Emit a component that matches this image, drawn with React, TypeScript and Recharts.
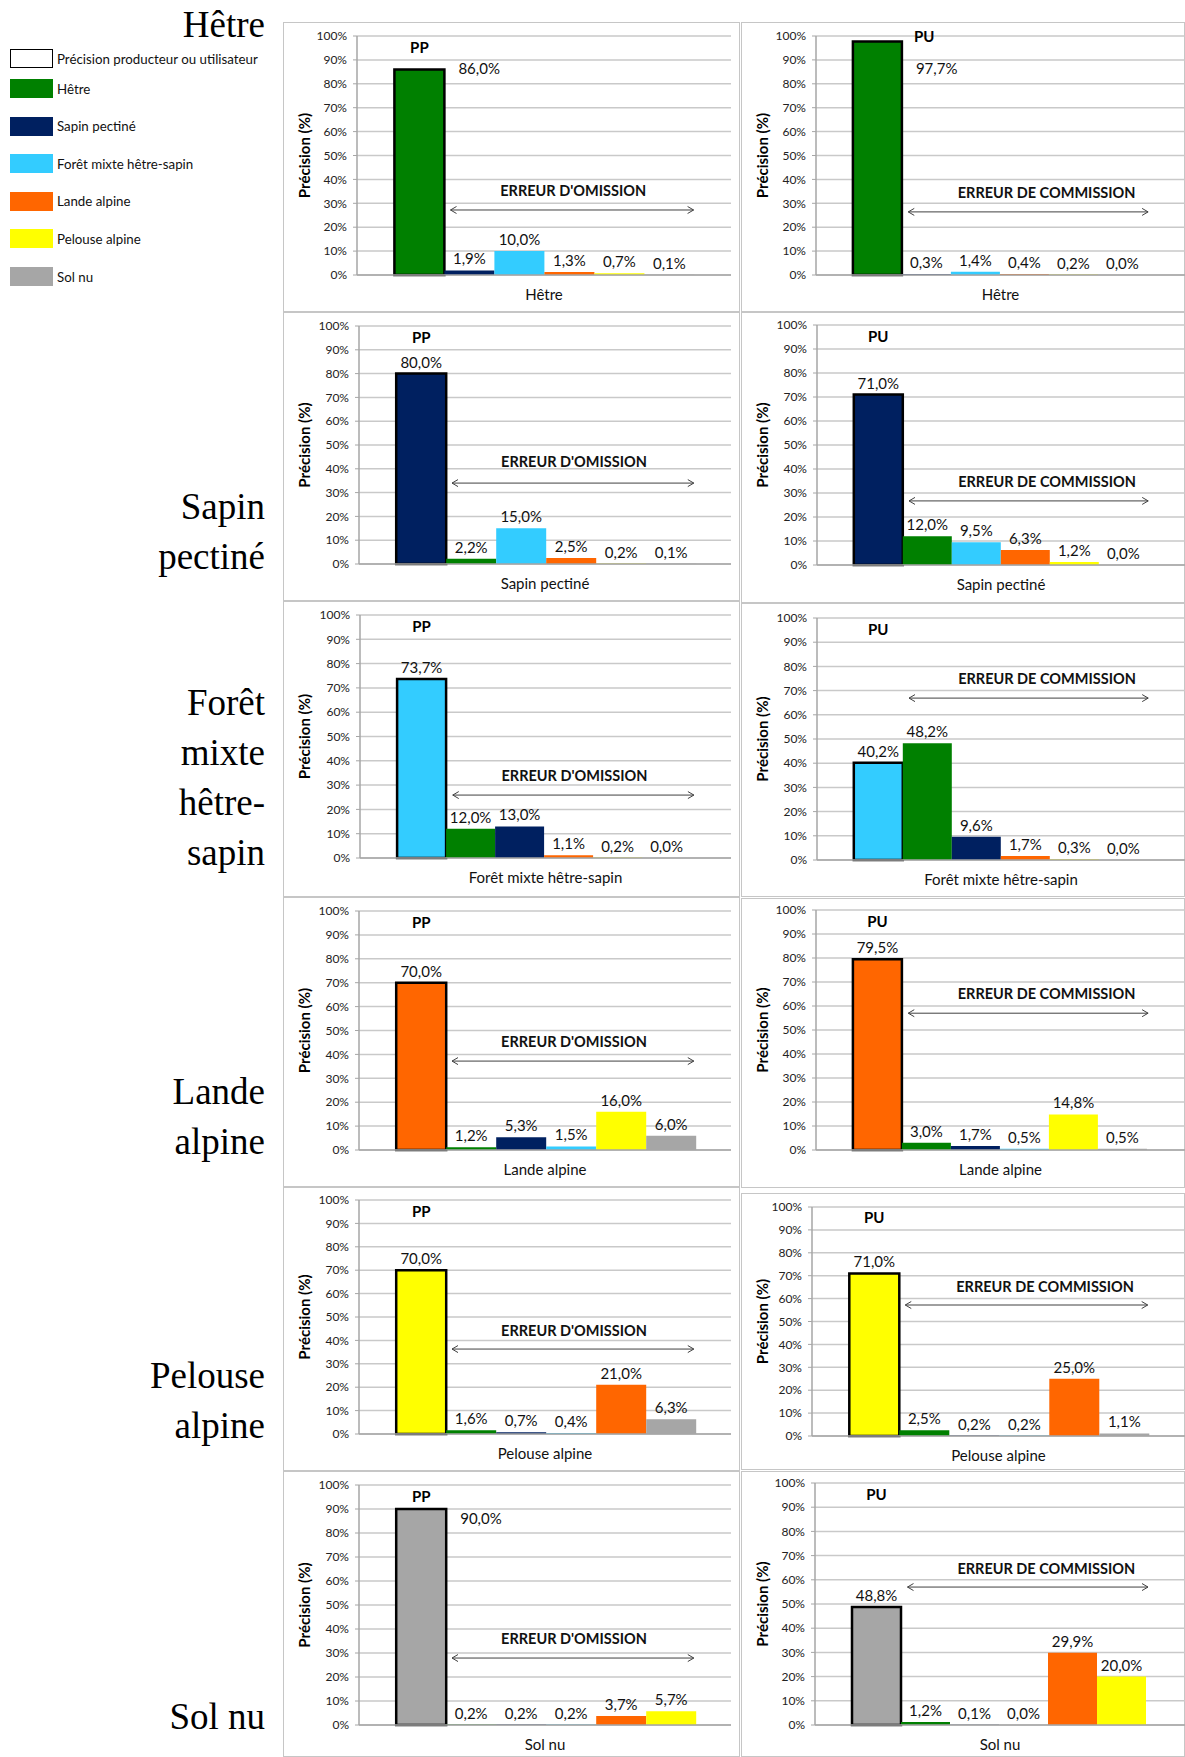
import React from "react";
import {
  BarChart,
  Bar,
  XAxis,
  YAxis,
  CartesianGrid,
  ReferenceLine,
} from "recharts";

const FONT = "Lato, 'Open Sans', sans-serif";
const SERIF = "'Liberation Serif', 'DejaVu Serif', serif";

const classNames = [
  "Hêtre",
  "Sapin pectiné",
  "Forêt mixte hêtre-sapin",
  "Lande alpine",
  "Pelouse alpine",
  "Sol nu",
];
const classColors = ["#008000", "#002060", "#33CCFF", "#FF6600", "#FFFF00", "#A6A6A6"];
const legendFirst = "Précision producteur ou utilisateur";

// valeurs en % : la classe de référence d'abord, puis les autres dans l'ordre de la légende
const ppHetre = [86.0, 1.9, 10.0, 1.3, 0.7, 0.1];
const puHetre = [97.7, 0.3, 1.4, 0.4, 0.2, 0.0];
const ppSapin = [80.0, 2.2, 15.0, 2.5, 0.2, 0.1];
const puSapin = [71.0, 12.0, 9.5, 6.3, 1.2, 0.0];
const ppForet = [73.7, 12.0, 13.0, 1.1, 0.2, 0.0];
const puForet = [40.2, 48.2, 9.6, 1.7, 0.3, 0.0];
const ppLande = [70.0, 1.2, 5.3, 1.5, 16.0, 6.0];
const puLande = [79.5, 3.0, 1.7, 0.5, 14.8, 0.5];
const ppPelouse = [70.0, 1.6, 0.7, 0.4, 21.0, 6.3];
const puPelouse = [71.0, 2.5, 0.2, 0.2, 25.0, 1.1];
const ppSol = [90.0, 0.2, 0.2, 0.2, 3.7, 5.7];
const puSol = [48.8, 1.2, 0.1, 0.0, 29.9, 20.0];

const yTicks = [0, 10, 20, 30, 40, 50, 60, 70, 80, 90, 100];
const omission = "ERREUR D'OMISSION";
const commission = "ERREUR DE COMMISSION";

// cadre de chaque panneau : [top, height, plotTop, plotBottom, axisX, niveau texte, niveau flèche]
const leftFrames = [
  [22, 290, 36, 275, 357, 35, 27.2],
  [312, 289, 326, 564, 359, 43, 34],
  [601, 296, 615, 858, 360, 33.7, 25.9],
  [897, 290, 911, 1150, 359, 45.2, 37.2],
  [1187, 284, 1200, 1434, 359, 44, 36.3],
  [1471, 286, 1485, 1725, 359, 35.8, 27.9],
];
const rightFrames = [
  [22, 290, 36, 275, 816, 34.3, 26.4],
  [312, 291, 325, 565, 817, 34.6, 26.7],
  [603, 294, 618, 860, 817, 74.8, 66.9],
  [898, 290, 910, 1150, 816, 65, 57],
  [1193, 277, 1207, 1436, 812, 65, 57.2],
  [1471, 286, 1483, 1725, 815, 64.5, 57],
];
const rowLabelTops = [0, 482, 678, 1067, 1351, 1692];

const fmt = (v: number) => v.toFixed(1).replace(".", ",") + "%";

const box = (p: any) => {
  const vb = p.viewBox || p;
  return {
    x: Number(vb.x),
    y: Number(vb.y),
    w: Number(vb.width),
    h: Number(vb.height),
    v: Number(p.value),
  };
};

const smallLabel = (p: any) => {
  const { x, y, w, h, v } = box(p);
  // pour une barre nulle, y peut être le bas de la barre
  const top = h < 0 ? y + h : y;
  return (
    <text x={x + w / 2} y={top - 6} textAnchor="middle" fontSize={15} fill="#111">
      {fmt(v)}
    </text>
  );
};

const mainLabel = (kind: string) => (p: any) => {
  const { x, y, w, h, v } = box(p);
  const bottom = y + h;
  const ppp = h / v;
  const at = (lvl: number) => bottom - lvl * ppp;
  const tag =
    v > 95 ? (
      <text x={x + w + 12} y={at(100) + 6} fontSize={15} fontWeight={700} fill="#000">
        {kind}
      </text>
    ) : (
      <text x={x + w / 2} y={at(95) + 5} textAnchor="middle" fontSize={15} fontWeight={700} fill="#000">
        {kind}
      </text>
    );
  const val =
    v > 84 ? (
      <text x={x + w + 14} y={at(86) + 5} fontSize={15} fill="#111">
        {fmt(v)}
      </text>
    ) : (
      <text x={x + w / 2} y={y - 6} textAnchor="middle" fontSize={15} fill="#111">
        {fmt(v)}
      </text>
    );
  return (
    <g>
      {tag}
      {val}
    </g>
  );
};

// flèche double sur la zone des erreurs (de 25 % à 90 % de la largeur du tracé)
const Arrow = (p: any) => {
  const { x1, x2, y1 } = p;
  const a = x1 + 0.25 * (x2 - x1);
  const b = x1 + 0.9 * (x2 - x1);
  return (
    <g stroke="#404040" strokeWidth={1} fill="none">
      <line x1={a} y1={y1} x2={b} y2={y1} />
      <path d={`M${a + 6},${y1 - 3.5} L${a},${y1} L${a + 6},${y1 + 3.5}`} />
      <path d={`M${b - 6},${y1 - 3.5} L${b},${y1} L${b - 6},${y1 + 3.5}`} />
    </g>
  );
};

const noteShape = (note: string, frac: number) => (p: any) => {
  const { x1, x2, y1 } = p;
  return (
    <text
      x={x1 + frac * (x2 - x1)}
      y={y1}
      dy="0.35em"
      textAnchor="middle"
      fontSize={14.5}
      fontWeight={700}
      fill="#111"
    >
      {note}
    </text>
  );
};

interface PanelProps {
  cls: number;
  kind: string;
  values: number[];
  x: number;
  w: number;
  plotRight: number;
  frame: number[];
  textX: number;
}

function Panel({ cls, kind, values, x, w, plotRight, frame, textX }: PanelProps) {
  const [top, h, pTop, pBottom, axisX, tLvl, aLvl] = frame;
  const order = [cls, ...classNames.map((_, i) => i).filter((i) => i !== cls)];
  const row: Record<string, any> = { name: classNames[cls] };
  values.forEach((v, i) => (row[`v${i}`] = v));
  const note = kind === "PP" ? omission : commission;

  return (
    <div style={{ position: "absolute", left: x, top, width: w, height: h }}>
      <div
        style={{
          position: "absolute",
          inset: 0,
          border: "1.5px solid #c6c6c6",
          boxSizing: "border-box",
        }}
      />
      <BarChart
        width={w}
        height={h}
        data={[row]}
        margin={{ top: pTop - top, right: x + w - plotRight, bottom: 0, left: 0 }}
        barCategoryGap="10%"
        barGap={0}
      >
        <CartesianGrid vertical={false} stroke="#c9c9c9" strokeWidth={1.5} />
        <XAxis
          dataKey="name"
          tickLine={false}
          axisLine={{ stroke: "#a6a6a6", strokeWidth: 1.5 }}
          height={top + h - pBottom}
          tick={{ fontSize: 15, fill: "#111" }}
          tickMargin={8}
        />
        <YAxis
          domain={[0, 100]}
          ticks={yTicks}
          interval={0}
          width={axisX - x}
          tickFormatter={(v) => `${v}%`}
          tick={{ fontSize: 12, fill: "#222" }}
          tickSize={4}
          tickMargin={6}
          axisLine={{ stroke: "#a6a6a6", strokeWidth: 1.5 }}
          tickLine={{ stroke: "#a6a6a6" }}
          label={{
            value: "Précision (%)",
            angle: -90,
            position: "insideLeft",
            offset: 22,
            style: { textAnchor: "middle", fontWeight: 700, fontSize: 15, fill: "#000" },
          }}
        />
        {order.map((c, i) => (
          <Bar
            key={i}
            dataKey={`v${i}`}
            name={classNames[c]}
            fill={classColors[c]}
            stroke={i === 0 ? "#000" : "none"}
            strokeWidth={i === 0 ? 2.5 : 0}
            minPointSize={0.01}
            isAnimationActive={false}
            label={i === 0 ? mainLabel(kind) : smallLabel}
          />
        ))}
        <ReferenceLine y={aLvl} shape={Arrow} />
        <ReferenceLine y={tLvl} shape={noteShape(note, textX)} />
      </BarChart>
    </div>
  );
}

export default function App() {
  const ppAll = [ppHetre, ppSapin, ppForet, ppLande, ppPelouse, ppSol];
  const puAll = [puHetre, puSapin, puForet, puLande, puPelouse, puSol];

  return (
    <div
      style={{
        position: "absolute",
        left: 0,
        top: 0,
        width: 1185,
        height: 1757,
        background: "#fff",
        fontFamily: FONT,
        overflow: "hidden",
      }}
    >
      {/* légende */}
      {[legendFirst, ...classNames].map((name, i) => {
        const top = i === 0 ? 49 : 79 + (i - 1) * 37.6;
        return (
          <div key={name} style={{ position: "absolute", left: 10, top, height: 19, display: "flex", alignItems: "center" }}>
            <div
              style={{
                width: 43,
                height: 19,
                boxSizing: "border-box",
                background: i === 0 ? "#fff" : classColors[i - 1],
                border: i === 0 ? "1.5px solid #000" : "none",
              }}
            />
            <span style={{ marginLeft: 4, fontSize: 13.3, color: "#111", whiteSpace: "nowrap" }}>{name}</span>
          </div>
        );
      })}

      {/* noms de classes */}
      {classNames.map((name, i) => (
        <div
          key={name}
          style={{
            position: "absolute",
            left: 265 - 130,
            top: rowLabelTops[i],
            width: 130,
            textAlign: "right",
            fontFamily: SERIF,
            fontSize: 37,
            lineHeight: "50px",
            color: "#000",
          }}
        >
          {name}
        </div>
      ))}

      {classNames.map((_, i) => (
        <React.Fragment key={i}>
          <Panel cls={i} kind="PP" values={ppAll[i]} x={283} w={457} plotRight={731} frame={leftFrames[i]} textX={0.578} />
          <Panel cls={i} kind="PU" values={puAll[i]} x={741} w={444} plotRight={1185} frame={rightFrames[i]} textX={0.625} />
        </React.Fragment>
      ))}
    </div>
  );
}
